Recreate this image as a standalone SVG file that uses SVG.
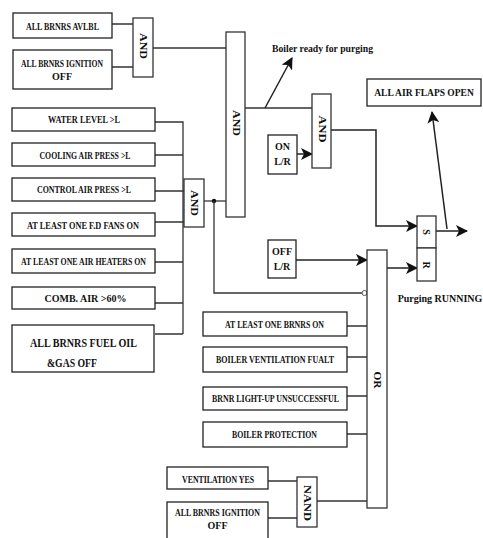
<svg xmlns="http://www.w3.org/2000/svg" width="483" height="538" viewBox="0 0 483 538">
<style>
.box{fill:#fff;stroke:#222;stroke-width:1.3}
.gate{fill:#fff;stroke:#333;stroke-width:1.3}
.t{font-family:"Liberation Serif","Times New Roman",serif;font-weight:bold;font-size:10px;text-anchor:middle;dominant-baseline:central;fill:#111}
.g{font-family:"Liberation Serif","Times New Roman",serif;font-weight:bold;font-size:10px;text-anchor:middle;dominant-baseline:central;fill:#111}
.w{fill:none;stroke:#333;stroke-width:1.3}
.a{fill:none;stroke:#222;stroke-width:1.5;marker-end:url(#ah)}
</style>
<defs>
<marker id="ah" viewBox="0 0 12 12" refX="11" refY="6" markerWidth="12" markerHeight="12" markerUnits="userSpaceOnUse" orient="auto">
<path d="M0,0 L12,6 L0,12 L3,6 Z" fill="#111"/>
</marker>
</defs>
<rect width="483" height="538" fill="#fff"/>

<g id="connectors">
<path class="w" d="M112,24 H133 M112,67 H133 M153,48 H226"/>
<path class="w" d="M155,122 H183 V334 M155,155 H183 M155,191 H184 M155,222 H184 M155,262 H183 M155,303 H183 M155,334 H183"/>
<path class="w" d="M204,201 H226"/>
<circle cx="214" cy="201" r="2.2" fill="#111"/>
<path class="w" d="M214,201 V293 H362"/>
<circle cx="364.5" cy="293" r="2.5" fill="#fff" stroke="#555" stroke-width="1"/>
<path class="w" d="M245,108 H312"/>
<path class="a" d="M265,108 L292,58"/>
<path class="a" d="M297,154 H312"/>
<path class="a" d="M331,130 H376 V226 H417"/>
<path class="a" d="M296,260 H367"/>
<path class="a" d="M387,268 H417"/>
<path class="a" d="M436,231 H467"/>
<path class="a" d="M447,229 L432,112"/>
<path class="w" d="M347,326 H367 M347,357 H367 M347,396 H367 M347,434 H367"/>
<path class="w" d="M268,481 H297 M268,518 H297 M317,501 H367"/>
</g>

<g id="n_allbrnrs_avlbl"><rect class="box" x="13" y="13" width="99" height="25"/><text class="t" x="62.5" y="26" textLength="73" lengthAdjust="spacingAndGlyphs">ALL BRNRS AVLBL</text></g>
<g id="n_ign_off1"><rect class="box" x="13" y="50" width="99" height="39"/><text class="t" x="62" y="63" textLength="82" lengthAdjust="spacingAndGlyphs">ALL BRNRS IGNITION</text><text class="t" x="62" y="76">OFF</text></g>
<g id="n_water"><rect class="box" x="12" y="108" width="143" height="23"/><text class="t" x="84" y="119" textLength="72" lengthAdjust="spacingAndGlyphs">WATER LEVEL &gt;L</text></g>
<g id="n_cooling"><rect class="box" x="12" y="143" width="143" height="23"/><text class="t" x="85" y="155" textLength="91" lengthAdjust="spacingAndGlyphs">COOLING AIR PRESS &gt;L</text></g>
<g id="n_control"><rect class="box" x="12" y="178" width="143" height="23"/><text class="t" x="84" y="189" textLength="94" lengthAdjust="spacingAndGlyphs">CONTROL AIR PRESS &gt;L</text></g>
<g id="n_fdfans"><rect class="box" x="12" y="213" width="143" height="23"/><text class="t" x="83" y="225" textLength="112" lengthAdjust="spacingAndGlyphs">AT LEAST ONE F.D FANS ON</text></g>
<g id="n_heaters"><rect class="box" x="12" y="249" width="143" height="24"/><text class="t" x="83.5" y="261" textLength="125" lengthAdjust="spacingAndGlyphs">AT LEAST ONE AIR HEATERS ON</text></g>
<g id="n_comb"><rect class="box" x="12" y="287" width="143" height="22"/><text class="t" x="85.5" y="298">COMB. AIR &gt;60%</text></g>
<g id="n_fueloil"><rect class="box" x="12" y="325" width="142" height="47"/><text class="t" x="83.5" y="342" style="font-size:13px" textLength="107" lengthAdjust="spacingAndGlyphs">ALL BRNRS FUEL OIL</text><text class="t" x="72" y="362" style="font-size:13px" textLength="50" lengthAdjust="spacingAndGlyphs">&amp;GAS OFF</text></g>

<g id="g_and1"><rect class="gate" x="133" y="18" width="20" height="59"/><text class="g" transform="translate(143,46) rotate(90)" textLength="26" lengthAdjust="spacingAndGlyphs">AND</text></g>
<g id="g_and_big"><rect class="gate" x="226" y="32" width="19" height="185"/><text class="g" transform="translate(236,123) rotate(90)" textLength="26" lengthAdjust="spacingAndGlyphs">AND</text></g>
<g id="g_and3"><rect class="gate" x="184" y="179" width="20" height="48"/><text class="g" transform="translate(194,203) rotate(90)" textLength="26" lengthAdjust="spacingAndGlyphs">AND</text></g>
<g id="g_and2"><rect class="gate" x="312" y="94" width="19" height="74"/><text class="g" transform="translate(322,129) rotate(90)" textLength="27" lengthAdjust="spacingAndGlyphs">AND</text></g>

<g id="lbl_ready"><text x="272" y="48" style="font-family:'Liberation Serif','Times New Roman',serif;font-weight:bold;font-size:11px;dominant-baseline:central;fill:#111" textLength="101" lengthAdjust="spacingAndGlyphs">Boiler ready for purging</text></g>
<g id="n_onlr"><rect class="box" x="268" y="135" width="29" height="39"/><text class="t" x="282.5" y="146">ON</text><text class="t" x="282.5" y="161">L/R</text></g>
<g id="n_offlr"><rect class="box" x="268" y="240" width="28" height="38"/><text class="t" x="282" y="251">OFF</text><text class="t" x="282" y="266">L/R</text></g>
<g id="n_flaps"><rect class="box" x="367" y="79" width="114" height="27"/><text class="t" x="424" y="93" style="font-size:9.5px">ALL AIR FLAPS OPEN</text></g>

<g id="g_sr"><rect class="gate" x="417" y="216" width="19" height="32"/><rect class="gate" x="417" y="248" width="19" height="33"/><text class="g" transform="translate(426.5,232) rotate(90)">S</text><text class="g" transform="translate(426.5,265) rotate(90)">R</text></g>
<g id="lbl_purging"><text x="440" y="298" style="font-family:'Liberation Serif','Times New Roman',serif;font-weight:bold;font-size:10px;text-anchor:middle;dominant-baseline:central;fill:#111">Purging RUNNING</text></g>

<g id="g_or"><rect class="gate" x="367" y="250" width="20" height="258"/><text class="g" transform="translate(377,380) rotate(90)" textLength="17" lengthAdjust="spacingAndGlyphs">OR</text></g>
<g id="n_brnrs_on"><rect class="box" x="203" y="312" width="144" height="24"/><text class="t" x="274.5" y="324" textLength="99" lengthAdjust="spacingAndGlyphs">AT LEAST ONE BRNRS ON</text></g>
<g id="n_vent_fault"><rect class="box" x="203" y="347" width="144" height="25"/><text class="t" x="275" y="359" textLength="118" lengthAdjust="spacingAndGlyphs">BOILER VENTILATION FUALT</text></g>
<g id="n_lightup"><rect class="box" x="203" y="387" width="144" height="23"/><text class="t" x="275.5" y="398" textLength="127" lengthAdjust="spacingAndGlyphs">BRNR LIGHT-UP UNSUCCESSFUL</text></g>
<g id="n_protection"><rect class="box" x="203" y="422" width="144" height="25"/><text class="t" x="274.5" y="434" textLength="85" lengthAdjust="spacingAndGlyphs">BOILER PROTECTION</text></g>

<g id="n_vent_yes"><rect class="box" x="167" y="467" width="101" height="22"/><text class="t" x="218" y="479" textLength="72" lengthAdjust="spacingAndGlyphs">VENTILATION YES</text></g>
<g id="n_ign_off2"><rect class="box" x="167" y="502" width="101" height="42"/><text class="t" x="217.5" y="512" textLength="85" lengthAdjust="spacingAndGlyphs">ALL BRNRS IGNITION</text><text class="t" x="217.5" y="525">OFF</text></g>
<g id="g_nand"><rect class="gate" x="297" y="477" width="20" height="50"/><text class="g" transform="translate(307,503) rotate(90)" textLength="36" lengthAdjust="spacingAndGlyphs">NAND</text></g>
</svg>
